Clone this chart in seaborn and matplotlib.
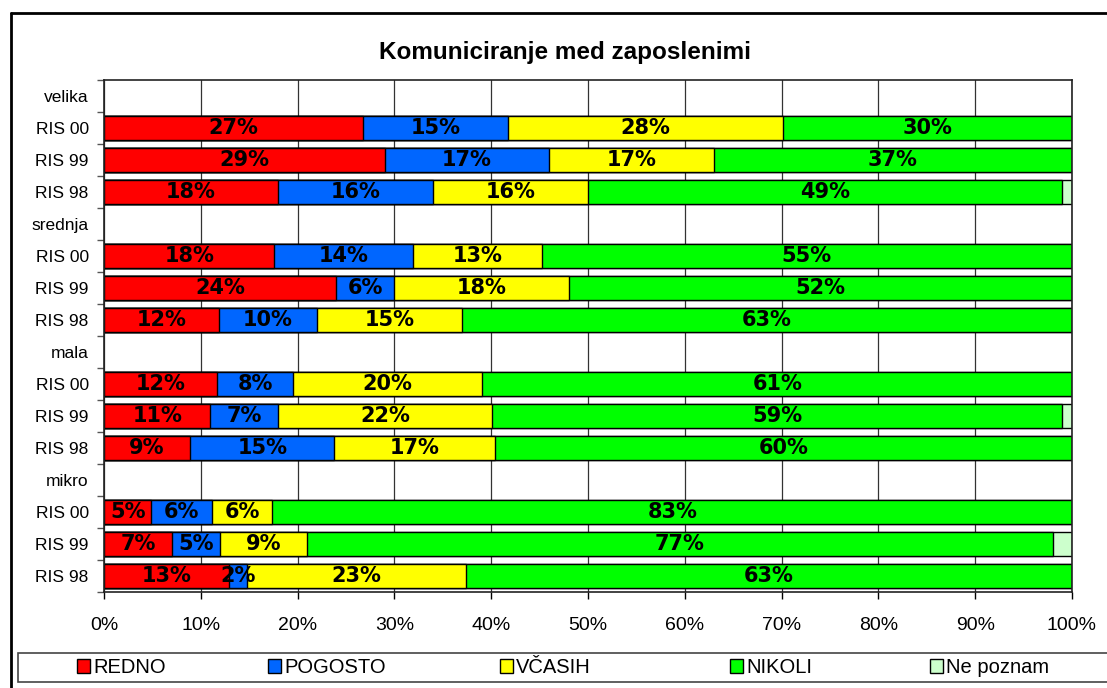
import matplotlib.pyplot as plt
import matplotlib.lines as mlines
import matplotlib.patches as mpatches
import numpy as np
import seaborn as sns
import pandas as pd

groups = ['velika', 'srednja', 'mala', 'mikro']
years = ['RIS 00', 'RIS 99', 'RIS 98']
series = ['REDNO', 'POGOSTO', 'VČASIH', 'NIKOLI', 'Ne poznam']
colors = ['#FF0000', '#0066FF', '#FFFF00', '#00FF00', '#CCFFCC']

redno = [26.8, 29.0, 18.0, 17.6, 24.0, 11.9, 11.7, 11.0, 8.9, 4.9, 7.0, 12.9]
pogosto = [14.9, 17.0, 16.0, 14.3, 6.0, 10.1, 7.8, 7.0, 14.9, 6.3, 5.0, 1.9]
vcasih = [28.4, 17.0, 16.0, 13.3, 18.0, 15.0, 19.6, 22.1, 16.6, 6.2, 9.0, 22.6]
nikoli = [29.9, 37.0, 49.0, 54.8, 52.0, 63.0, 60.9, 58.9, 59.6, 82.6, 77.0, 62.6]
ne_poznam = [0.0, 0.0, 1.0, 0.0, 0.0, 0.0, 0.0, 1.0, 0.0, 0.0, 2.0, 0.0]

# rows: group header (empty) followed by its three years
order, labels, keys = [], [], []
for g in groups:
    order.append(g)
    labels.append(g)
    for y in years:
        k = g + ' ' + y
        order.append(k)
        labels.append(y)
        keys.append(k)

df = pd.DataFrame({'key': keys, 'REDNO': redno, 'POGOSTO': pogosto,
                   'VČASIH': vcasih, 'NIKOLI': nikoli, 'Ne poznam': ne_poznam})
cum = df[series].cumsum(axis=1)
cum['key'] = df['key']

sns.set_theme(style='white')
plt.rcParams['font.family'] = ['Liberation Sans', 'DejaVu Sans']
plt.rcParams['text.color'] = 'black'
plt.rcParams['xtick.color'] = 'black'
plt.rcParams['ytick.color'] = 'black'

fig = plt.figure(figsize=(11.07, 6.88), dpi=100)
W, H = 1107, 688
ax = fig.add_axes([104 / W, (H - 592) / H, 968 / W, 512 / H])

# stacked bars: draw cumulative totals, longest first
for s, c in reversed(list(zip(series, colors))):
    sns.barplot(data=cum, y='key', x=s, order=order, color=c, orient='h',
                edgecolor='black', linewidth=1, width=0.72, saturation=1,
                ax=ax, zorder=2)

# value labels
pos = {k: order.index(k) for k in keys}
for i, k in enumerate(keys):
    left = 0
    for s in series[:4]:
        v = df.loc[i, s]
        ax.text(left + v / 2, pos[k], f'{v:.0f}%', ha='center', va='center',
                fontsize=15, fontweight='bold', family='DejaVu Sans',
                color='black', zorder=5)
        left += v

ax.set_xlim(0, 100)
ax.set_ylim(15.5, -0.5)
ax.set_xticks(np.arange(0, 101, 10))
ax.set_xticklabels([f'{t}%' for t in range(0, 101, 10)], fontsize=14)
ax.set_yticks(range(len(order)))
ax.set_yticklabels(labels, fontsize=12.5)
ax.set_yticks(np.arange(-0.5, len(order)), minor=True)
ax.tick_params(axis='y', which='major', length=0, pad=11)
ax.tick_params(axis='y', which='minor', length=5, width=1, color='#555555', left=True)
ax.tick_params(axis='x', which='major', length=5, width=1, color='black',
               bottom=True, pad=13)
ax.set_xlabel('')
ax.set_ylabel('')
ax.xaxis.grid(True, color='#333333', linewidth=0.9)
ax.yaxis.grid(False)
ax.set_axisbelow(True)
for sp in ax.spines.values():
    sp.set_visible(True)
    sp.set_color('#222222')
    sp.set_linewidth(1.2)

fig.text(565 / W, 1 - 53 / H, 'Komuniciranje med zaposlenimi', ha='center',
         va='center', fontsize=17.5, fontweight='bold')

# legend box, running off the right edge like the reference
fig.add_artist(mpatches.Rectangle((18 / W, 1 - 682 / H), 1.0, 29 / H,
                                  transform=fig.transFigure, facecolor='white',
                                  edgecolor='#444444', linewidth=1.2))
leg_x = [77, 268, 500, 730, 930]
for s, c, x in zip(series, colors, leg_x):
    h = mpatches.Patch(facecolor=c, edgecolor='black', linewidth=1, label=s)
    fig.legend(handles=[h], loc='center left',
               bbox_to_anchor=(x / W, 1 - 667.5 / H), fontsize=14.5,
               frameon=False, handlelength=0.65, handleheight=0.65,
               handletextpad=0.15, borderpad=0, borderaxespad=0)

# outer chart border (left and top visible)
fig.add_artist(mlines.Line2D([11 / W, 11 / W], [0, 1 - 13 / H], color='black',
                             linewidth=2, transform=fig.transFigure))
fig.add_artist(mlines.Line2D([11 / W, 1], [1 - 13 / H, 1 - 13 / H], color='black',
                             linewidth=2, transform=fig.transFigure))

fig.savefig('out.png', dpi=100, facecolor='white')
